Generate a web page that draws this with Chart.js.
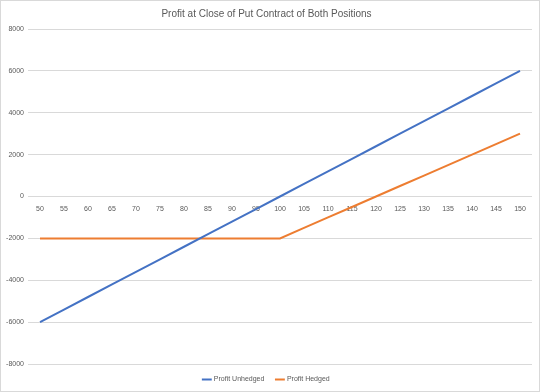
<!DOCTYPE html>
<html>
<head>
<meta charset="utf-8">
<script src="https://cdn.jsdelivr.net/npm/chart.js@4"></script>
<style>
  html, body { margin: 0; padding: 0; background: #fff; }
  #wrap { width: 540px; height: 392px; box-sizing: border-box; border: 1px solid #d9d9d9; position: relative; }
</style>
</head>
<body>
<div id="wrap"><canvas id="chart"></canvas></div>
<script>
// strike prices on the category axis
const strikes = ["50","55","60","65","70","75","80","85","90","95","100","105","110","115","120","125","130","135","140","145","150"];
// profit values
const profitUnhedged = [-6000,-5400,-4800,-4200,-3600,-3000,-2400,-1800,-1200,-600,0,600,1200,1800,2400,3000,3600,4200,4800,5400,6000];
const profitHedged = [-2000,-2000,-2000,-2000,-2000,-2000,-2000,-2000,-2000,-2000,-2000,-1500,-1000,-500,0,500,1000,1500,2000,2500,3000];
const yTicks = [-8000,-6000,-4000,-2000,0,2000,4000,6000,8000];

const font = "Liberation Sans";
const textColor = "#595959";

new Chart(document.getElementById("chart").getContext("2d"), {
  type: "line",
  data: {
    labels: strikes,
    datasets: [
      {
        label: "Profit Unhedged",
        data: profitUnhedged,
        borderColor: "#4472C4",
        backgroundColor: "#4472C4",
        borderWidth: 2,
        pointRadius: 0,
      },
      {
        label: "Profit Hedged",
        data: profitHedged,
        borderColor: "#ED7D31",
        backgroundColor: "#ED7D31",
        borderWidth: 2,
        pointRadius: 0,
      },
    ],
  },
  options: {
    responsive: true,
    maintainAspectRatio: false,
    animation: false,
    layout: { padding: { left: 0, right: 7, top: 0, bottom: -2 } },
    plugins: {
      title: {
        display: true,
        text: "Profit at Close of Put Contract of Both Positions",
        color: textColor,
        font: { family: font, size: 10, weight: "normal" },
        padding: { top: 7, bottom: 9 },
      },
      legend: {
        position: "bottom",
        labels: {
          color: textColor,
          font: { family: font, size: 7 },
          usePointStyle: true,
          pointStyle: "line",
          boxWidth: 18,
          padding: 12,
        },
      },
      tooltip: { enabled: false },
    },
    scales: {
      x: {
        position: { y: 0 },
        offset: true,
        grid: { display: false, drawTicks: false },
        border: { display: false },
        ticks: {
          color: textColor,
          font: { family: font, size: 7 },
          maxRotation: 0,
          autoSkip: false,
          padding: 8,
        },
        afterFit: (scale) => { scale.height = 0; },
      },
      y: {
        min: -8000,
        max: 8000,
        afterBuildTicks: (scale) => { scale.ticks = yTicks.map((v) => ({ value: v })); },
        grid: { color: "#d9d9d9", drawTicks: false },
        border: { display: false },
        ticks: {
          color: textColor,
          font: { family: font, size: 7 },
          padding: 4,
          callback: (v) => String(v),
        },
        afterFit: (scale) => { scale.width = 27; },
      },
    },
  },
});
</script>
</body>
</html>
